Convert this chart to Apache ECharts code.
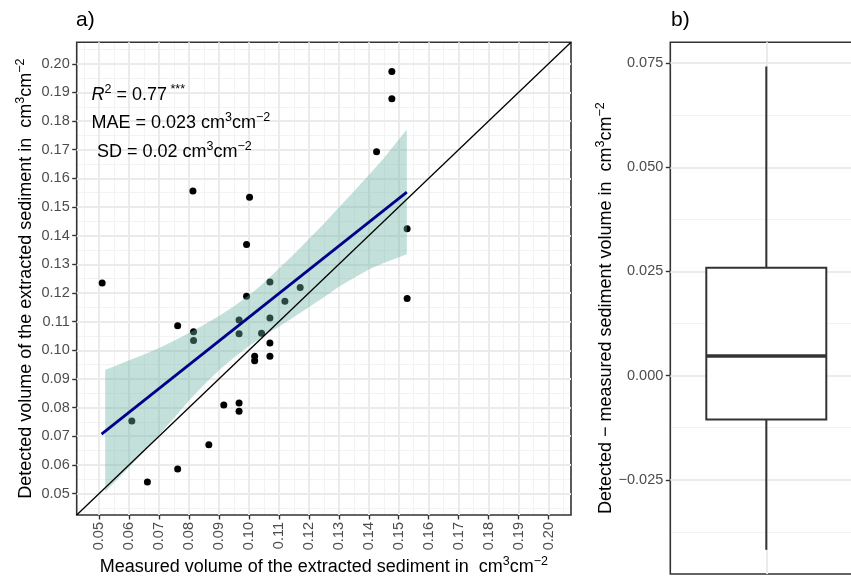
<!DOCTYPE html>
<html><head><meta charset="utf-8">
<script src="https://cdn.jsdelivr.net/npm/echarts@6/dist/echarts.min.js"></script>
<style>html,body{margin:0;padding:0;background:#fff}#c{width:851px;height:578px}</style>
</head><body><div id="c"></div>
<script>
// ---- data ----
const measured = [0.051, 0.0762, 0.0815, 0.0815, 0.107, 0.0992, 0.1171, 0.112, 0.0967, 0.107,
  0.0967, 0.1042, 0.107, 0.107, 0.1019, 0.1019, 0.0916, 0.0967, 0.0967, 0.0609,
  0.0866, 0.0762, 0.0661, 0.0813, 0.1002, 0.0992, 0.1477, 0.1477, 0.1426, 0.1528, 0.1528];
const detected = [0.1235, 0.1086, 0.1065, 0.1034, 0.1238, 0.1189, 0.1219, 0.1171, 0.1106, 0.1113,
  0.1058, 0.1059, 0.1025, 0.0979, 0.0979, 0.0963, 0.0809, 0.0816, 0.0787, 0.0753,
  0.0670, 0.0586, 0.0540, 0.1556, 0.1534, 0.1369, 0.1973, 0.1878, 0.1693, 0.1424, 0.1181];
const axisTicks = [0.05, 0.06, 0.07, 0.08, 0.09, 0.10, 0.11, 0.12, 0.13, 0.14, 0.15, 0.16, 0.17, 0.18, 0.19, 0.20];
const axisMinorTicks = [0.045, 0.055, 0.065, 0.075, 0.085, 0.095, 0.105, 0.115, 0.125, 0.135, 0.145, 0.155, 0.165, 0.175, 0.185, 0.195, 0.205];
const axisLimits = [0.0425, 0.2075];
const fitX = [0.0508, 0.1527];
const fitY = [0.0707, 0.1552];
const bandX = [0.052, 0.056, 0.060, 0.065, 0.070, 0.075, 0.080, 0.085, 0.090, 0.095, 0.100, 0.105, 0.110, 0.115, 0.120, 0.125, 0.130, 0.135, 0.140, 0.145, 0.1527];
const bandUpper = [0.0932, 0.0948, 0.0965, 0.0985, 0.1008, 0.1033, 0.1060, 0.1089, 0.1120, 0.1154, 0.1192, 0.1236, 0.1285, 0.1335, 0.1388, 0.1442, 0.1498, 0.1554, 0.1612, 0.1670, 0.1771];
const bandLower = [0.0506, 0.0548, 0.0592, 0.0647, 0.0705, 0.0764, 0.0825, 0.0880, 0.0930, 0.0975, 0.1015, 0.1050, 0.1082, 0.1116, 0.1150, 0.1185, 0.1222, 0.1252, 0.1282, 0.1305, 0.1335];
const diffTicks = [-0.025, 0.000, 0.025, 0.050, 0.075];
const diffMinorTicks = [-0.0375, -0.0125, 0.0125, 0.0375, 0.0625];
const diffLimits = [-0.0476, 0.0800];
const boxStats = [-0.0418, -0.0105, 0.0047, 0.0259, 0.0742]; // lower whisker, Q1, median, Q3, upper whisker
const statLines = [
  '{i|R}{s|2}{n| = 0.77}{s| ***}',
  '{n|MAE = 0.023 cm}{s|3}{n|cm}{s|−2}',
  '{n|SD = 0.02 cm}{s|3}{n|cm}{s|−2}'
];
const xTitle = '{n|Measured volume of the extracted sediment in  cm}{s|3}{n|cm}{s|−2}';
const yTitle = '{n|Detected volume of the extracted sediment in  cm}{s|3}{n|cm}{s|−2}';
const bTitle = '{n|Detected − measured sediment volume in  cm}{s|3}{n|cm}{s|−2}';

// ---- styling ----
const FONT = 'Liberation Sans, Arial, sans-serif';
const richText = {
  n: {fontSize: 18, lineHeight: 24, color: '#000', fontFamily: FONT},
  i: {fontSize: 18, lineHeight: 24, color: '#000', fontFamily: FONT, fontStyle: 'italic'},
  s: {fontSize: 12.5, lineHeight: 10, color: '#000', fontFamily: FONT, verticalAlign: 'top'}
};
const GRID_MAJ = {color: '#EBEBEB', width: 2};
const GRID_MIN = {color: '#F3F3F3', width: 1};
const TICK = {show: true, length: 4.5, lineStyle: {color: '#333333', width: 1.4}};
const LABEL = {fontSize: 14.5, color: '#4D4D4D', fontFamily: FONT, margin: 7};

function mainAxis(extra) {
  return Object.assign({type: 'value', axisLine: {show: false}, splitLine: {show: true, lineStyle: GRID_MAJ}}, extra);
}
function minorAxis(extra, ticks) {
  return Object.assign({type: 'value', axisLine: {show: false}, axisLabel: {show: false},
    axisTick: {show: false, customValues: ticks}, splitLine: {show: true, lineStyle: GRID_MIN}, z: -1}, extra);
}

const chart = echarts.init(document.getElementById('c'), null, {renderer: 'canvas'});
const option = {
  animation: false,
  backgroundColor: '#fff',
  grid: [
    {left: 76.7, top: 42.3, width: 494.3, height: 472.7, show: true, borderColor: '#333333', borderWidth: 1.6, backgroundColor: 'transparent', outerBoundsMode: 'none', containLabel: false},
    {left: 670.3, top: 42.3, width: 192, height: 531.7, show: true, borderColor: '#333333', borderWidth: 1.6, backgroundColor: 'transparent', outerBoundsMode: 'none', containLabel: false}
  ],
  xAxis: [
    mainAxis({gridIndex: 0, min: axisLimits[0], max: axisLimits[1],
      axisTick: Object.assign({customValues: axisTicks}, TICK),
      axisLabel: Object.assign({customValues: axisTicks, rotate: 90, formatter: v => v.toFixed(2)}, LABEL),
      name: xTitle, nameLocation: 'middle', nameGap: 40, nameMoveOverlap: false,
      nameTextStyle: {fontSize: 18, fontFamily: FONT, color: '#000', rich: richText}}),
    minorAxis({gridIndex: 0, min: axisLimits[0], max: axisLimits[1]}, axisMinorTicks),
    {type: 'value', gridIndex: 1, min: 0.4, max: 1.6, axisLine: {show: false}, axisLabel: {show: false},
      axisTick: {show: false, customValues: [1]}, splitLine: {show: true, lineStyle: GRID_MAJ}}
  ],
  yAxis: [
    mainAxis({gridIndex: 0, min: axisLimits[0], max: axisLimits[1],
      axisTick: Object.assign({customValues: axisTicks}, TICK),
      axisLabel: Object.assign({customValues: axisTicks, formatter: v => v.toFixed(2)}, LABEL),
      name: yTitle, nameLocation: 'middle', nameRotate: 90, nameGap: 39, nameMoveOverlap: false,
      nameTextStyle: {fontSize: 18, fontFamily: FONT, color: '#000', rich: richText}}),
    minorAxis({gridIndex: 0, min: axisLimits[0], max: axisLimits[1]}, axisMinorTicks),
    mainAxis({gridIndex: 1, min: diffLimits[0], max: diffLimits[1],
      axisTick: Object.assign({customValues: diffTicks}, TICK),
      axisLabel: Object.assign({customValues: diffTicks, formatter: v => (v < -1e-9 ? '−' : '') + Math.abs(v).toFixed(3)}, LABEL),
      name: bTitle, nameLocation: 'middle', nameRotate: 90, nameGap: 52, nameMoveOverlap: false,
      nameTextStyle: {fontSize: 18, fontFamily: FONT, color: '#000', rich: richText}}),
    minorAxis({gridIndex: 1, min: diffLimits[0], max: diffLimits[1]}, diffMinorTicks)
  ],
  series: [
    {type: 'scatter', xAxisIndex: 0, yAxisIndex: 0, z: 2, symbolSize: 7,
      itemStyle: {color: '#000', opacity: 1}, data: measured.map((m, i) => [m, detected[i]])},
    {type: 'custom', xAxisIndex: 0, yAxisIndex: 0, z: 3, data: [[bandX[0], bandUpper[0]]],
      renderItem: function (params, api) {
        const pts = [];
        for (let i = 0; i < bandX.length; i++) pts.push(api.coord([bandX[i], bandUpper[i]]));
        for (let i = bandX.length - 1; i >= 0; i--) pts.push(api.coord([bandX[i], bandLower[i]]));
        return {type: 'polygon', shape: {points: pts}, style: {fill: 'rgba(105,179,162,0.4)'}};
      }},
    {type: 'line', xAxisIndex: 0, yAxisIndex: 0, z: 4, symbol: 'none', silent: true,
      lineStyle: {color: '#000', width: 1.3}, data: [[axisLimits[0], axisLimits[0]], [axisLimits[1], axisLimits[1]]]},
    {type: 'line', xAxisIndex: 0, yAxisIndex: 0, z: 5, symbol: 'none', silent: true,
      lineStyle: {color: '#00008B', width: 2.8}, data: fitX.map((x, i) => [x, fitY[i]])},
    {type: 'custom', xAxisIndex: 2, yAxisIndex: 2, z: 3, data: [[1, boxStats[2]]],
      renderItem: function (params, api) {
        const c = 1, hw = 0.375;
        const [lo, q1, med, q3, hi] = boxStats;
        const P = (x, y) => api.coord([x, y]);
        const tl = P(c - hw, q3), br = P(c + hw, q1);
        const sty = {stroke: '#333333', lineWidth: 2, fill: null};
        return {type: 'group', children: [
          {type: 'line', shape: {x1: P(c, hi)[0], y1: P(c, hi)[1], x2: P(c, q3)[0], y2: P(c, q3)[1]}, style: sty},
          {type: 'line', shape: {x1: P(c, q1)[0], y1: P(c, q1)[1], x2: P(c, lo)[0], y2: P(c, lo)[1]}, style: sty},
          {type: 'rect', shape: {x: tl[0], y: tl[1], width: br[0] - tl[0], height: br[1] - tl[1]}, style: {stroke: '#333333', lineWidth: 2, fill: '#fff'}},
          {type: 'line', shape: {x1: P(c - hw, med)[0], y1: P(c - hw, med)[1], x2: P(c + hw, med)[0], y2: P(c + hw, med)[1]}, style: {stroke: '#333333', lineWidth: 3.6}}
        ]};
      }}
  ],
  graphic: [
    {type: 'text', left: 76, top: 10, style: {text: 'a)', fontSize: 21, fontFamily: FONT, fill: '#000'}},
    {type: 'text', left: 671, top: 10, style: {text: 'b)', fontSize: 21, fontFamily: FONT, fill: '#000'}},
    {type: 'text', left: 91.5, top: 82.7, z: 10, style: {text: statLines[0], rich: richText, fontSize: 18, fontFamily: FONT}},
    {type: 'text', left: 91.5, top: 111, z: 10, style: {text: statLines[1], rich: richText, fontSize: 18, fontFamily: FONT}},
    {type: 'text', left: 97, top: 139.7, z: 10, style: {text: statLines[2], rich: richText, fontSize: 18, fontFamily: FONT}}
  ]
};
chart.setOption(option);
</script></body></html>
